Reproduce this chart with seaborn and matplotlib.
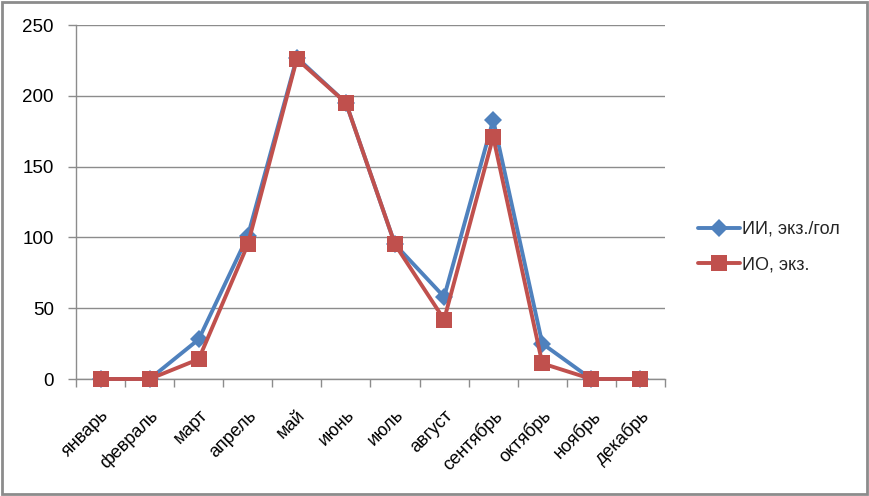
import matplotlib
matplotlib.use("Agg")
import matplotlib.pyplot as plt
import seaborn as sns
import pandas as pd
from matplotlib.patches import Rectangle
from matplotlib.ticker import FixedLocator

months = ["январь", "февраль", "март", "апрель", "май", "июнь",
          "июль", "август", "сентябрь", "октябрь", "ноябрь", "декабрь"]
series_ii = [0, 0, 28, 101, 227, 195, 95, 58, 183, 25, 0, 0]
series_io = [0, 0, 14, 95, 226, 195, 95, 42, 171, 11, 0, 0]
name_ii = "ИИ, экз./гол"
name_io = "ИО, экз."

df = pd.DataFrame({
    "month": months * 2,
    "value": series_ii + series_io,
    "series": [name_ii] * len(months) + [name_io] * len(months),
})

sns.set_theme(style="white")
plt.rcParams["font.family"] = ["Liberation Sans", "DejaVu Sans"]

fig = plt.figure(figsize=(8.7, 4.96), dpi=100)
ax = fig.add_axes([76/870, 1-379/496, (665-76)/870, (379-25)/496])

palette = {name_ii: "#4F81BD", name_io: "#C0504D"}
markers = {name_ii: "D", name_io: "s"}
sns.lineplot(data=df, x="month", y="value", hue="series", style="series",
             markers=markers, dashes=False, palette=palette, ax=ax,
             linewidth=2.8, markersize=10, markeredgewidth=0, legend=True,
             sort=False)
for ln in ax.lines:
    ln.set_clip_on(False)
    ln.set_zorder(3)
    if ln.get_marker() == "s":
        ln.set_markersize(11)
    else:
        ln.set_markersize(9)

ax.set_xlim(-0.5, 11.5)
ax.set_ylim(0, 250)
ax.set_yticks([0, 50, 100, 150, 200, 250])
ax.yaxis.grid(True, color="#8c8c8c", linewidth=1)
ax.xaxis.grid(False)
ax.set_axisbelow(True)
ax.set_xlabel("")
ax.set_ylabel("")
for s in ["top", "right"]:
    ax.spines[s].set_visible(False)
for s in ["left", "bottom"]:
    ax.spines[s].set_color("#8c8c8c")
    ax.spines[s].set_linewidth(1)
    ax.spines[s].set_zorder(1)

ax.set_xticks(range(len(months)))
ax.set_xticklabels(months, rotation=45, ha="right", rotation_mode="anchor",
                   fontsize=13, color="black")
ax.xaxis.set_minor_locator(FixedLocator([i - 0.5 for i in range(len(months) + 1)]))
ax.tick_params(axis="x", which="major", length=0, pad=20)
ax.tick_params(axis="x", which="minor", length=6, color="#8c8c8c", width=1,
               direction="out", bottom=True)
ax.tick_params(axis="y", which="major", length=6, color="#8c8c8c", width=1,
               direction="out", left=True, labelsize=13.5, labelcolor="black", pad=10)

handles, labels = ax.get_legend_handles_labels()
ax.get_legend().remove()
fig.legend(handles, labels, loc="center left",
           bbox_to_anchor=(682/870, 1-247/496), frameon=False,
           fontsize=13, handlelength=2.3, labelspacing=1.0, handletextpad=0.1)

fig.patches.append(Rectangle((0.002, 0.004), 0.994, 0.992, transform=fig.transFigure,
                             fill=False, edgecolor="#8c8c8c", linewidth=2))

fig.savefig("out.png", dpi=100)
